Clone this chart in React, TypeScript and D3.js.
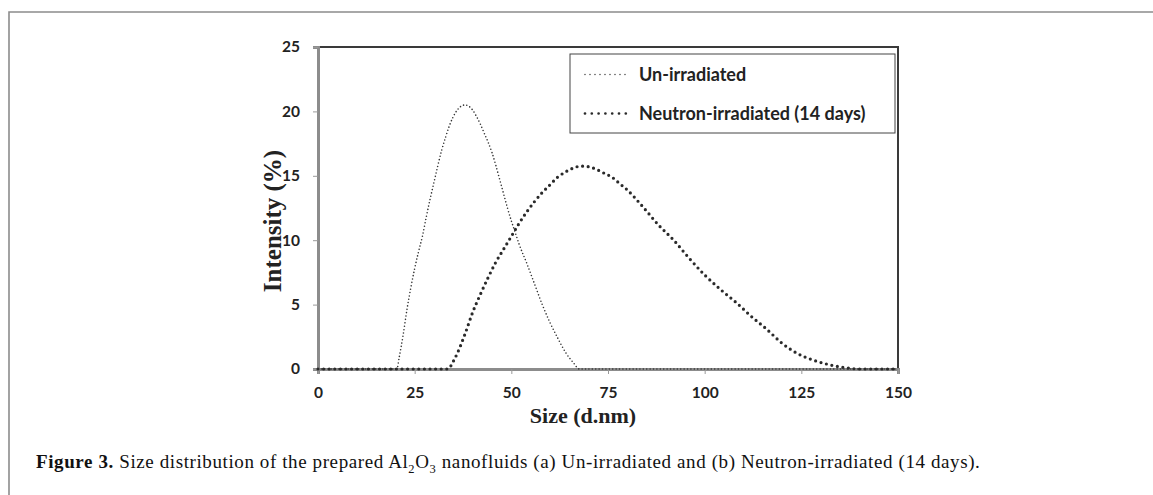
import React, { useEffect, useRef } from 'react';
import * as d3 from 'd3';

// size (d.nm) vs intensity (%)
const unIrradiatedSize = [0, 5, 10, 15, 19, 20.4, 21, 22, 23, 24, 25, 26, 27, 28, 29, 30, 31, 32, 33, 34, 35, 36, 37, 38, 39, 40, 41, 42, 43, 44, 45, 46, 47, 48, 49, 50, 51, 52, 54, 56, 58, 60, 62, 64, 66, 67.6, 80, 100, 120, 150];
const unIrradiatedIntensity = [0, 0, 0, 0, 0, 0, 0.9, 2.6, 4.6, 6.3, 7.8, 9.1, 10.3, 11.8, 13.2, 14.5, 15.8, 17, 18, 18.9, 19.6, 20.1, 20.4, 20.5, 20.4, 20.1, 19.6, 19, 18.3, 17.6, 16.8, 15.8, 14.7, 13.6, 12.5, 11.5, 10.6, 9.7, 8.2, 6.6, 5, 3.6, 2.4, 1.3, 0.5, 0, 0, 0, 0, 0];

const neutronSize = [0, 10, 20, 30, 33.6, 35, 36, 38, 40, 42, 44, 46, 48, 50, 52, 54, 56, 58, 60, 62, 64, 66, 68, 70, 72, 74, 76, 78, 80, 84, 88, 92, 96, 100, 104, 108, 112, 116, 120, 124, 128, 132, 136, 140, 145, 150];
const neutronIntensity = [0, 0, 0, 0, 0, 0.6, 1.2, 2.7, 4.4, 5.8, 7.1, 8.3, 9.3, 10.3, 11.3, 12.2, 13, 13.7, 14.3, 14.9, 15.3, 15.6, 15.75, 15.7, 15.5, 15.2, 14.9, 14.4, 13.9, 12.6, 11.2, 10, 8.6, 7.3, 6.2, 5.2, 4.1, 3.1, 2.0, 1.2, 0.7, 0.35, 0.12, 0, 0, 0];

const xTicks = [0, 25, 50, 75, 100, 125, 150];
const yTicks = [0, 5, 10, 15, 20, 25];
const legendLabels = ['Un-irradiated', 'Neutron-irradiated (14 days)'];

const W = 1153;
const H = 495;

export default function App() {
  const svgRef = useRef<SVGSVGElement>(null);

  useEffect(() => {
    document.body.style.margin = '0';
    const svg = d3.select(svgRef.current);
    svg.selectAll('*').remove();

    const left = 318, right = 898, top = 47, bottom = 369;
    const x = d3.scaleLinear().domain([0, 150]).range([left, right]);
    const y = d3.scaleLinear().domain([0, 25]).range([bottom, top]);

    // outer page frame (top and left only)
    svg.append('path')
      .attr('d', `M9,${H} L9,12 L${W},12`)
      .attr('fill', 'none')
      .attr('stroke', '#8c8c8c')
      .attr('stroke-width', 1.6);

    // plot frame
    svg.append('rect')
      .attr('x', left).attr('y', top)
      .attr('width', right - left).attr('height', bottom - top)
      .attr('fill', 'none')
      .attr('stroke', '#3a3a3a')
      .attr('stroke-width', 2);

    // axes
    const tickFont = "Lato, 'Open Sans', sans-serif";
    const yAxis = svg.append('g')
      .attr('transform', `translate(${left},0)`)
      .call(d3.axisLeft(y).tickValues(yTicks).tickSize(5).tickPadding(13));
    const xAxis = svg.append('g')
      .attr('transform', `translate(0,${bottom})`)
      .call(d3.axisBottom(x).tickValues(xTicks).tickSize(5).tickPadding(13));
    [xAxis, yAxis].forEach(g => {
      g.select('.domain').attr('stroke', '#8c8c8c').attr('stroke-width', 3);
      g.selectAll('.tick line').attr('stroke', '#999').attr('stroke-width', 1);
      g.selectAll('.tick text')
        .attr('fill', '#222')
        .style('font-family', tickFont)
        .style('font-weight', 'bold')
        .style('font-size', '15.5px');
    });

    const line = d3.line<[number, number]>()
      .x(d => x(d[0]))
      .y(d => y(d[1]))
      .curve(d3.curveMonotoneX);

    const unData = unIrradiatedSize.map((s, i) => [s, unIrradiatedIntensity[i]] as [number, number]);
    const neData = neutronSize.map((s, i) => [s, neutronIntensity[i]] as [number, number]);

    const styles = [
      { width: 1.6, dash: '0,3.4', color: '#333' },
      { width: 3.2, dash: '0,5.6', color: '#2a2a2a' },
    ];

    [unData, neData].forEach((data, i) => {
      svg.append('path')
        .datum(data)
        .attr('d', line)
        .attr('fill', 'none')
        .attr('stroke', styles[i].color)
        .attr('stroke-width', styles[i].width)
        .attr('stroke-dasharray', styles[i].dash)
        .attr('stroke-linecap', 'round');
    });

    // legend
    const lg = svg.append('g');
    lg.append('rect')
      .attr('x', 570).attr('y', 54)
      .attr('width', 325).attr('height', 79)
      .attr('fill', 'white')
      .attr('stroke', '#444')
      .attr('stroke-width', 1);
    legendLabels.forEach((label, i) => {
      const ly = 74.5 + i * 39;
      lg.append('line')
        .attr('x1', 585).attr('x2', 627)
        .attr('y1', ly).attr('y2', ly)
        .attr('stroke', styles[i].color)
        .attr('stroke-width', styles[i].width * 0.85)
        .attr('stroke-dasharray', i === 0 ? '0,5' : '0,6.8')
        .attr('stroke-linecap', 'round');
      lg.append('text')
        .attr('x', 639).attr('y', ly + 6)
        .style('font-family', tickFont)
        .style('font-weight', 'bold')
        .style('font-size', '18px')
        .attr('fill', '#222')
        .text(label);
    });

    // axis titles
    svg.append('text')
      .attr('transform', `translate(281,221) rotate(-90)`)
      .attr('text-anchor', 'middle')
      .style('font-family', "'Liberation Serif', serif")
      .style('font-weight', 'bold')
      .style('font-size', '25px')
      .attr('fill', '#222')
      .text('Intensity (%)');
    svg.append('text')
      .attr('x', 583).attr('y', 423)
      .attr('text-anchor', 'middle')
      .style('font-family', "'Liberation Serif', serif")
      .style('font-weight', 'bold')
      .style('font-size', '22px')
      .attr('fill', '#222')
      .text('Size (d.nm)');

    // caption
    const cap = svg.append('text')
      .attr('x', 36).attr('y', 468)
      .style('font-family', "'Liberation Serif', serif")
      .style('font-size', '19px')
      .style('letter-spacing', '0.6px')
      .attr('fill', '#111');
    cap.append('tspan').style('font-weight', 'bold').text('Figure 3.');
    cap.append('tspan').text(' Size distribution of the prepared Al');
    cap.append('tspan').attr('dy', 5).style('font-size', '12.5px').text('2');
    cap.append('tspan').attr('dy', -5).text('O');
    cap.append('tspan').attr('dy', 5).style('font-size', '12.5px').text('3');
    cap.append('tspan').attr('dy', -5).text(' nanofluids (a) Un-irradiated and (b) Neutron-irradiated (14 days).');
  }, []);

  return <svg ref={svgRef} width={W} height={H} style={{ display: 'block', background: 'white' }} />;
}
